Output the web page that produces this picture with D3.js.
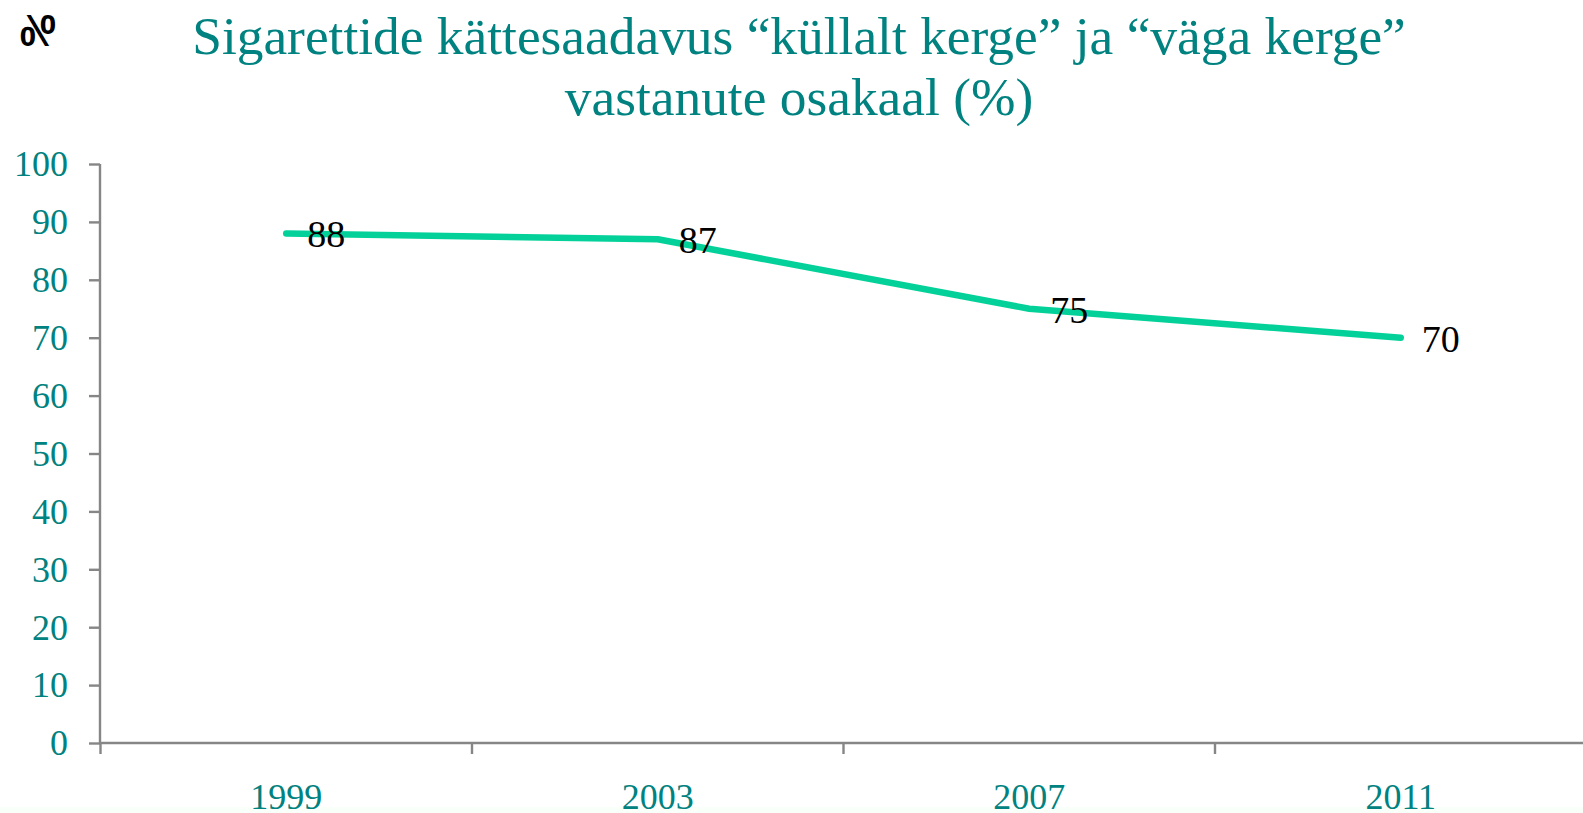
<!DOCTYPE html>
<html><head><meta charset="utf-8">
<script src="https://cdnjs.cloudflare.com/ajax/libs/d3/7.8.5/d3.min.js"></script>
<style>html,body{margin:0;padding:0;background:#fff;overflow:hidden}svg{display:block}</style>
</head><body><svg id="c" width="1583" height="813"></svg>
<script>
const years=["1999","2003","2007","2011"];
const shares=[88,87,75,70];
const yTicks=[0,10,20,30,40,50,60,70,80,90,100];
const titleLines=["Sigarettide kättesaadavus “küllalt kerge” ja “väga kerge”","vastanute osakaal (%)"];
const teal="#008280",grey="#868686",font="'Liberation Serif',serif";
const svg=d3.select("#c");
svg.append("rect").attr("x",0).attr("y",807).attr("width",1583).attr("height",6).attr("fill","#f9fff9");
const x=d3.scaleBand().domain(years).range([100.5,1586.5]).paddingInner(0).paddingOuter(0);
const y=d3.scaleLinear().domain([0,100]).range([743,164]);
const ay=d3.axisLeft(y).tickValues(yTicks).tickSize(11).tickPadding(21);
const gy=svg.append("g").attr("transform","translate(100,0)").call(ay);
gy.select(".domain").attr("stroke",grey).attr("stroke-width",2.4).attr("d","M0,164V743");
gy.selectAll("line").attr("stroke",grey).attr("stroke-width",2.4);
gy.selectAll("text").attr("fill",teal).style("font",`36px ${font}`).attr("dy","0.33em");
const gx=svg.append("g").attr("transform","translate(0,743)");
gx.append("line").attr("x1",100).attr("x2",1583).attr("stroke",grey).attr("stroke-width",2.4);
const edges=years.map(d=>x(d));
gx.selectAll("line.t").data(edges).join("line").attr("class","t").attr("x1",d=>d).attr("x2",d=>d).attr("y1",0).attr("y2",11).attr("stroke",grey).attr("stroke-width",2.4);
gx.selectAll("text").data(years).join("text").attr("x",d=>x(d)+x.bandwidth()/2).attr("y",66).attr("text-anchor","middle").attr("fill",teal).style("font",`36px ${font}`).text(d=>d);
const pts=years.map((d,i)=>({d,v:shares[i]}));
svg.append("path").datum(pts).attr("fill","none").attr("stroke","#04d19a").attr("stroke-width",6.5).attr("stroke-linecap","round").attr("stroke-linejoin","round")
 .attr("d",d3.line().x(p=>x(p.d)+x.bandwidth()/2).y(p=>y(p.v)));
svg.append("g").selectAll("text").data(pts).join("text").attr("x",p=>x(p.d)+x.bandwidth()/2+40).attr("y",p=>y(p.v)+14).attr("text-anchor","middle").attr("fill","#000").style("font",`38px ${font}`).text(p=>p.v);
svg.append("g").selectAll("text").data(titleLines).join("text").attr("x",799).attr("y",(d,i)=>54+i*61).attr("text-anchor","middle").attr("fill",teal).style("font",`53.4px ${font}`).text(d=>d);
svg.append("text").attr("transform","translate(56,46) scale(-1.2,1.3)").attr("fill","#000").style("font",`bold 34px 'Liberation Sans',sans-serif`).text("%");
</script></body></html>
